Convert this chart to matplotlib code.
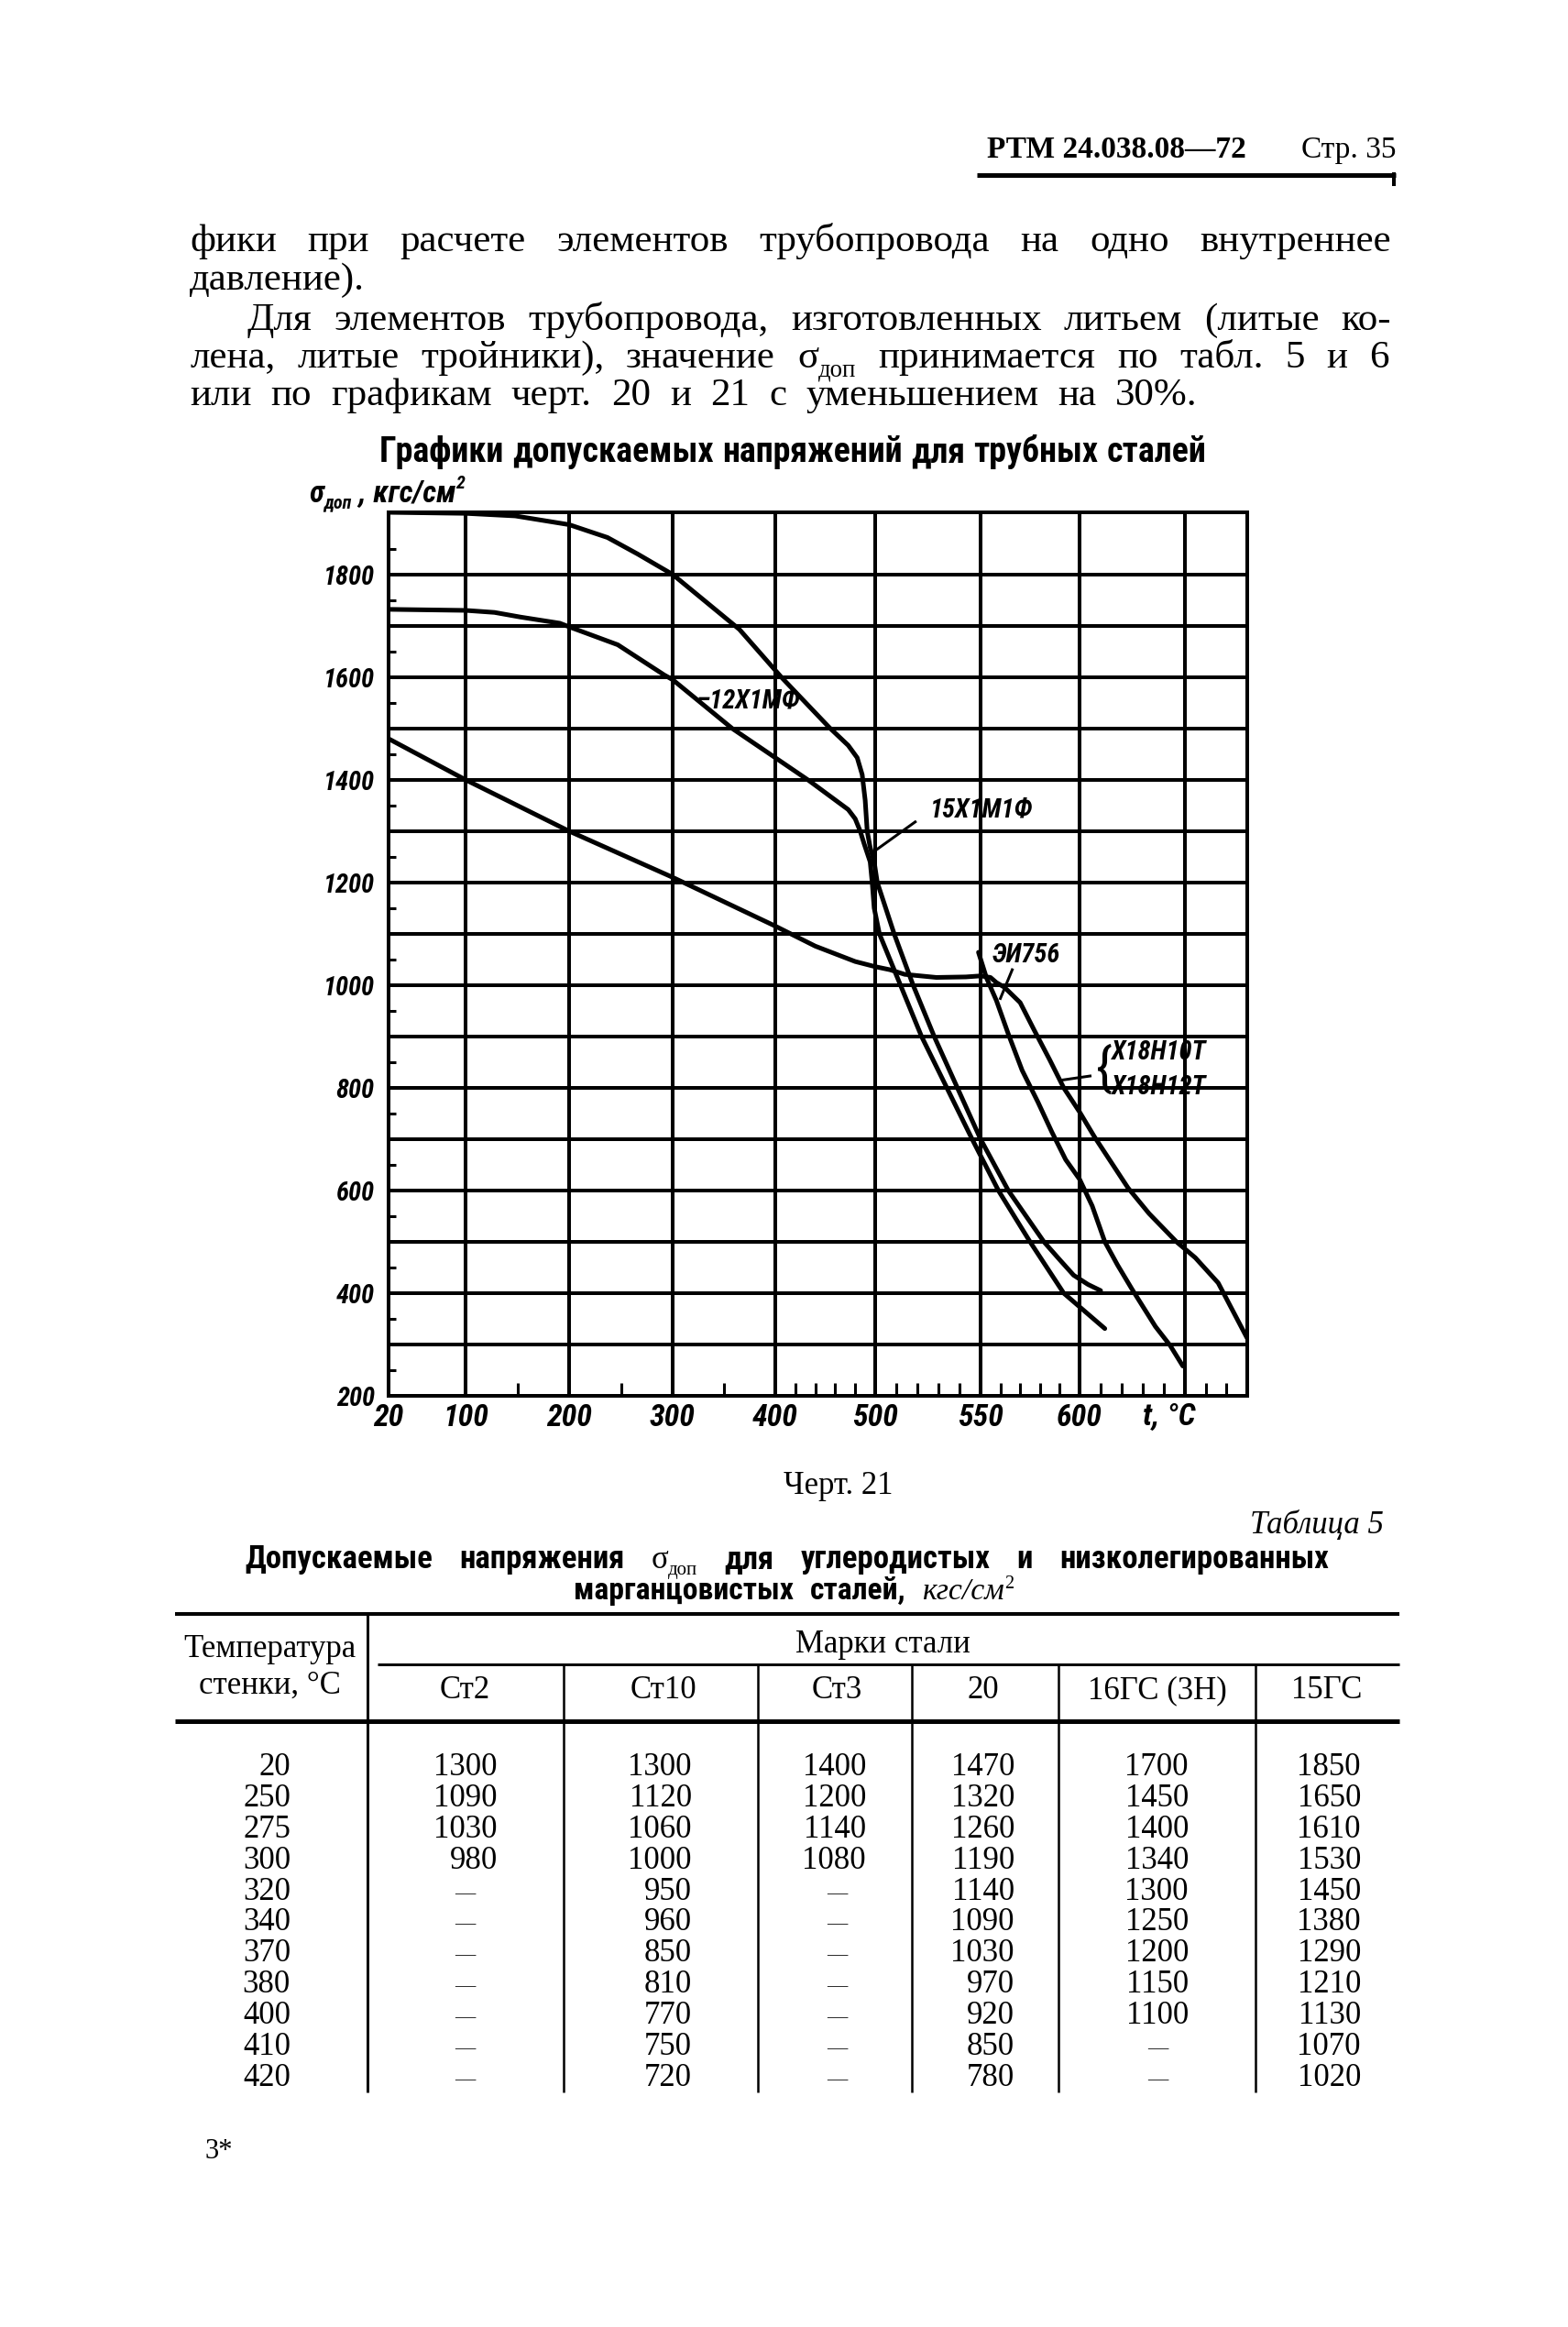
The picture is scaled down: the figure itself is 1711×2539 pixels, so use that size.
import numpy as np
import matplotlib
matplotlib.use('Agg')
import matplotlib.pyplot as plt
from matplotlib.lines import Line2D
from matplotlib import font_manager as fm

# ---------------- data ----------------
# chart: allowable stress sigma_dop (kgf/cm2) vs wall temperature t (C)
T_15X1M1F = [20, 100, 148, 200, 237, 266, 300, 365, 406, 454, 473, 482, 487, 490, 492, 495, 499,
             501, 505, 509, 518, 528, 539, 550, 564, 582, 590, 597, 604, 610]
S_15X1M1F = [1921, 1919, 1914, 1897, 1872, 1840, 1800, 1693, 1600, 1502, 1467, 1443, 1410, 1360,
             1300, 1268, 1240, 1200, 1150, 1100, 1000, 900, 800, 700, 600, 500, 465, 435, 417, 405]
T_12X1MF = [20, 100, 128, 153, 191, 200, 247, 292, 300, 358, 400, 434, 473, 480, 485, 489, 495,
            497, 499, 502, 512, 522, 534, 546, 559, 575, 592, 612]
S_12X1MF = [1732, 1730, 1726, 1717, 1705, 1698, 1663, 1604, 1595, 1500, 1443, 1398, 1342, 1324,
            1300, 1275, 1240, 1200, 1150, 1100, 1000, 900, 800, 700, 600, 500, 400, 331]
T_X18H10T = [20, 100, 200, 300, 400, 440, 480, 500, 507, 514, 529, 543, 550, 555, 558, 562, 570,
             577, 585, 592, 600, 607, 615, 623, 633, 646, 655, 666, 673, 680]
S_X18H10T = [1480, 1400, 1300, 1210, 1115, 1076, 1046, 1036, 1030, 1021, 1015, 1016, 1018, 1015,
             1005, 996, 966, 913, 854, 800, 753, 705, 655, 605, 555, 500, 469, 420, 366, 312]
T_EI756 = [549, 553, 558, 564, 571, 579, 586, 593, 600, 606, 612, 618, 625, 636, 643, 649]
S_EI756 = [1064, 1014, 970, 905, 834, 772, 714, 660, 622, 570, 500, 455, 407, 335, 298, 258]

X_TICKS = [20, 100, 200, 300, 400, 500, 550, 600]
X_TICKLABELS = ['20', '100', '200', '300', '400', '500', '550', '600']
X_GRID = [100, 200, 300, 400, 500, 550, 600, 650]
X_MINOR = [150, 250, 350, 420, 440, 460, 480, 510, 520, 530, 540, 560, 570, 580, 590,
           610, 620, 630, 640, 660, 670]
Y_TICKS = [200, 400, 600, 800, 1000, 1200, 1400, 1600, 1800]
Y_TICKLABELS = ['200', '400', '600', '800', '1000', '1200', '1400', '1600', '1800']
Y_GRID = list(range(300, 1801, 100))
Y_MINOR = list(range(250, 1901, 100))

# non-uniform temperature axis of the original drawing (breakpoints -> relative length)
X_BREAKS = [20, 100, 200, 300, 400, 500, 550, 600, 650, 680]
X_LENGTH = [0, 84, 197, 310, 422, 531, 646, 754, 869, 937]

# table 5
TEMPS = [20, 250, 275, 300, 320, 340, 370, 380, 400, 410, 420]
ST2 = [1300, 1090, 1030, 980, None, None, None, None, None, None, None]
ST10 = [1300, 1120, 1060, 1000, 950, 960, 850, 810, 770, 750, 720]
ST3 = [1400, 1200, 1140, 1080, None, None, None, None, None, None, None]
ST20 = [1470, 1320, 1260, 1190, 1140, 1090, 1030, 970, 920, 850, 780]
ST16GS = [1700, 1450, 1400, 1340, 1300, 1250, 1200, 1150, 1100, None, None]
ST15GS = [1850, 1650, 1610, 1530, 1450, 1380, 1290, 1210, 1130, 1070, 1020]
GRADES = ['Ст2', 'Ст10', 'Ст3', '20', '16ГС (3Н)', '15ГС']

# ---------------- fonts ----------------
_fl = fm.fontManager.ttflist
_names = {f.name for f in _fl}
NARROW_NAME = None
for cand in ['Liberation Sans Narrow', 'Roboto Condensed', 'Noto Sans Condensed',
             'Open Sans Condensed', 'DejaVu Sans Condensed', 'Arial Narrow']:
    if cand in _names:
        NARROW_NAME = cand
        break
if NARROW_NAME is None:
    for fam in ['Noto Sans', 'Open Sans', 'Roboto', 'DejaVu Sans', 'Inter']:
        if any(f.name == fam and str(f.stretch) in ('condensed', 'semi-condensed', 'extra-condensed')
               for f in _fl):
            NARROW_NAME = fam
            break
if NARROW_NAME is None:
    NARROW_NAME = 'Liberation Sans'
NARROW = [NARROW_NAME, 'DejaVu Sans']
SERIF = ['Liberation Serif', 'DejaVu Serif']
NSTR = 'condensed'

# ---------------- page ----------------
W, H = 1711, 2539
fig = plt.figure(figsize=(W / 100, H / 100), dpi=100)
fig.patch.set_facecolor('white')
R = fig.canvas.get_renderer()
PT = 100 / 72.0


def put(x, y, s, size, fam=SERIF, ha='left', va='baseline', **kw):
    return fig.text(x / W, 1 - y / H, s, fontsize=size, family=fam, ha=ha, va=va, **kw)


def wid(t):
    return t.get_window_extent(R).width


def nsize(s, size, target_w, **kw):
    """font size in the narrow family: nominal size, reduced if text is wider than target"""
    t = fig.text(0, 0, s, fontsize=size, family=NARROW, fontstretch=NSTR, **kw)
    w = wid(t)
    t.remove()
    return min(size, size * target_w / w)


def make_word(word, size, fam, kw):
    runs = [(word, 1.0, 0, {})] if isinstance(word, str) else word
    objs = []
    for txt, sc, dy, extra in runs:
        props = dict(kw)
        props.update(extra)
        f = props.pop('family', fam)
        t = fig.text(0, 0, txt, fontsize=size * sc, family=f, ha='left', va='baseline', **props)
        objs.append([t, dy, wid(t)])
    return objs


def place_word(objs, x, y):
    for t, dy, w in objs:
        t.set_position((x / W, 1 - (y + dy) / H))
        x += w
    return x


def wsum(objs):
    return sum(o[2] for o in objs)


def justify(words, x0, x1, y, size, fam=SERIF, min_gap=8, **kw):
    ws = [make_word(w, size, fam, kw) for w in words]
    tot = sum(wsum(o) for o in ws)
    n = max(len(ws) - 1, 1)
    if tot + n * min_gap > x1 - x0:
        for o in ws:
            for t, _, _ in o:
                t.remove()
        return justify(words, x0, x1, y, size * (x1 - x0 - n * min_gap) / tot * 0.995,
                       fam, min_gap, **kw)
    gap = (x1 - x0 - tot) / n
    x = x0
    for o in ws:
        place_word(o, x, y)
        x += wsum(o) + gap


def runs_line(x, y, words, size, fam=SERIF, gap=10, center=False, **kw):
    ws = [make_word(w, size, fam, kw) for w in words]
    tot = sum(wsum(o) for o in ws) + gap * (len(ws) - 1)
    if center:
        x = x - tot / 2
    for o in ws:
        place_word(o, x, y)
        x += wsum(o) + gap
    return x


def fline(x0, y0, x1, y1, lw_px, **kw):
    fig.add_artist(Line2D([x0 / W, x1 / W], [1 - y0 / H, 1 - y1 / H], lw=lw_px / PT,
                          color='black', transform=fig.transFigure, solid_capstyle='butt', **kw))


# header
put(1077, 172, 'РТМ 24.038.08—72', 24, weight='bold')
put(1523, 172, 'Стр. 35', 24, ha='right')
fline(1066, 191, 1523, 191, 5)
fline(1521, 188, 1521, 203, 4)

# body text
BODY = 31
SIG = [('σ', 1.0, 0, {}), ('доп', 0.62, 9, {})]
justify('фики при расчете элементов трубопровода на одно внутреннее'.split(), 207, 1518, 274, BODY)
put(207, 316, 'давление).', BODY)
justify('Для элементов трубопровода, изготовленных литьем (литые ко-'.split(), 270, 1518, 360, BODY)
justify(['лена,', 'литые', 'тройники),', 'значение', SIG, 'принимается', 'по', 'табл.', '5', 'и', '6'],
        207, 1516, 401, BODY)
justify('или по графикам черт. 20 и 21 с уменьшением на 30%.'.split(), 207, 1307, 442, BODY)

# chart title
justify('Графики допускаемых напряжений для трубных сталей'.split(), 414, 1316, 504, 28, NARROW,
        weight='bold', fontstretch=NSTR)

# ---------------- chart ----------------
def fwd(x):
    return np.interp(x, X_BREAKS, X_LENGTH)


def inv(x):
    return np.interp(x, X_LENGTH, X_BREAKS)


ax = fig.add_axes([424 / W, 1 - 1523 / H, (1361 - 424) / W, (1523 - 559) / H])
ax.set_facecolor('none')
ax.set_xscale('function', functions=(fwd, inv))
ax.set_xlim(20, 680)
ax.set_ylim(200, 1921)
GLW = 4 / PT
CLW = 5 / PT
for v in X_GRID:
    ax.axvline(v, color='black', lw=GLW, zorder=1)
for v in Y_GRID:
    ax.axhline(v, color='black', lw=GLW, zorder=1)
for sp in ax.spines.values():
    sp.set_linewidth(GLW)
    sp.set_zorder(3)

for T, S in [(T_15X1M1F, S_15X1M1F), (T_12X1MF, S_12X1MF), (T_X18H10T, S_X18H10T), (T_EI756, S_EI756)]:
    ax.plot(T, S, color='black', lw=CLW, solid_capstyle='round', solid_joinstyle='round', zorder=4)

BI = dict(fontweight='bold', fontstyle='italic')
xs = nsize('500', 26, 50, **BI)
ys = nsize('1800', 21, 56, **BI)
ax.set_xticks(X_TICKS, labels=X_TICKLABELS, fontsize=xs, family=NARROW, fontstretch=NSTR, **BI)
ax.set_xticks(X_MINOR, minor=True)
ax.set_yticks(Y_TICKS, labels=Y_TICKLABELS, fontsize=ys, family=NARROW, fontstretch=NSTR, **BI)
ax.set_yticks(Y_MINOR, minor=True)
ax.tick_params(axis='x', which='major', length=0, pad=6)
ax.tick_params(axis='y', which='major', length=0, pad=11)
ax.tick_params(axis='x', which='minor', direction='in', length=10, width=2.2)
ax.tick_params(axis='y', which='minor', direction='in', length=6, width=2.2)

ls = nsize('Х18Н10Т', 23, 104, **BI)
LAB = dict(fontsize=ls, family=NARROW, fontstretch=NSTR, zorder=5, **BI)
LLW = 3 / PT
ax.text(322, 1555, '–12Х1МФ', ha='left', va='center', **LAB)
ax.text(526, 1327, '15Х1М1Ф', ha='left', va='baseline', **LAB)
ax.plot([519, 500], [1318, 1262], color='black', lw=LLW, zorder=4)
ax.text(556, 1045, 'ЭИ756', ha='left', va='baseline', **LAB)
ax.plot([566, 560], [1030, 974], color='black', lw=LLW, zorder=4)
ax.text(608, 834, '{', ha='left', va='center', fontsize=42, family=NARROW, zorder=5)
ax.text(615, 869, 'Х18Н10Т', ha='left', va='center', **LAB)
ax.text(615, 801, 'Х18Н12Т', ha='left', va='center', **LAB)
ax.plot([605, 591], [823, 815], color='black', lw=LLW, zorder=4)

put(1247, 1530, 't, °C', xs, NARROW, va='top', fontstretch=NSTR, weight='bold', style='italic')

# y-axis title
runs_line(337, 548, [[('σ', 1.0, 0, {}), ('доп', 0.6, 6, {}), (' , кгс/см', 1.0, 0, {}),
                      ('2', 0.6, -15, {})]], 24, NARROW, weight='bold', style='italic',
          fontstretch=NSTR)

# ---------------- caption + table ----------------
put(915, 1630, 'Черт. 21', 25, ha='center')
put(1510, 1673, 'Таблица 5', 25, ha='right', style='italic')
SIGB = [('σ', 1.0, 0, {'weight': 'normal', 'family': SERIF}),
        ('доп', 0.6, 7, {'weight': 'normal', 'family': SERIF})]
justify(['Допускаемые', 'напряжения', SIGB, 'для', 'углеродистых', 'и', 'низколегированных'],
        267, 1450, 1711, 25, NARROW, weight='bold', fontstretch=NSTR)
tsz = nsize('марганцовистых', 25, 240, weight='bold')
runs_line(866, 1745, ['марганцовистых', 'сталей,',
                      [('кгс/см', 1.0, 0, {'weight': 'normal', 'style': 'italic', 'family': SERIF,
                                           'fontstretch': 'normal'}),
                       ('2', 0.6, -12, {'weight': 'normal', 'family': SERIF, 'fontstretch': 'normal'})]],
          tsz, NARROW, gap=18, center=True, weight='bold', fontstretch=NSTR)

TB = 25
fline(191, 1761, 1527, 1761, 4)
fline(191, 1878, 1527, 1878, 5)
fline(412, 1816, 1527, 1816, 3)
fline(401, 1761, 401, 2283, 3)
DIVS = [615, 827, 995, 1155, 1370]
for xd in DIVS:
    fline(xd, 1816, xd, 2283, 2.5)
put(294, 1808, 'Температура', TB, ha='center')
put(294, 1848, 'стенки, °С', TB, ha='center')
put(963, 1803, 'Марки стали', TB, ha='center')
HEAD_X = [507, 724, 913, 1073, 1263, 1448]
for g, xc in zip(GRADES, HEAD_X):
    put(xc, 1853, g, TB, ha='center')

COLS = [ST2, ST10, ST3, ST20, ST16GS, ST15GS]
RIGHT_X = [543, 755, 945, 1107, 1297, 1485]
for i, t in enumerate(TEMPS):
    yb = 1937 + i * 33.9
    put(317, yb, str(t), TB, ha='right')
    for col, xr, xc in zip(COLS, RIGHT_X, HEAD_X):
        v = col[i]
        if v is None:
            put(xc, yb - 2, '—', 16, ha='center')
        else:
            put(xr, yb, str(v), TB, ha='right')

put(223, 2355, '3*', 22)

fig.savefig('out.png', dpi=100, facecolor='white')
